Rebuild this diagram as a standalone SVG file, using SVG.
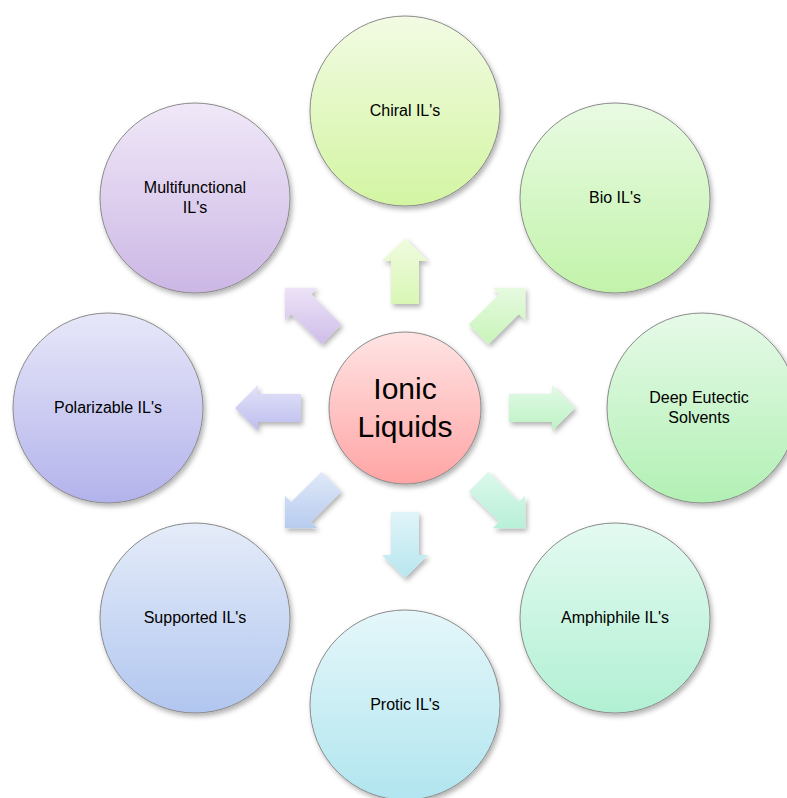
<svg xmlns="http://www.w3.org/2000/svg" width="787" height="798" viewBox="0 0 787 798">
<defs>
<filter id="sh" x="-20%" y="-20%" width="150%" height="150%">
<feDropShadow dx="2" dy="3" stdDeviation="2.5" flood-color="#000" flood-opacity="0.3"/>
</filter>
<linearGradient id="gC" x1="0" y1="0" x2="0" y2="1"><stop offset="0" stop-color="#f2fbe3"/><stop offset="1" stop-color="#d3f5a2"/></linearGradient>
<linearGradient id="gB" x1="0" y1="0" x2="0" y2="1"><stop offset="0" stop-color="#e9fbe3"/><stop offset="1" stop-color="#c2f3aa"/></linearGradient>
<linearGradient id="gD" x1="0" y1="0" x2="0" y2="1"><stop offset="0" stop-color="#e6fae8"/><stop offset="1" stop-color="#b2f0b4"/></linearGradient>
<linearGradient id="gA" x1="0" y1="0" x2="0" y2="1"><stop offset="0" stop-color="#e4faf1"/><stop offset="1" stop-color="#b1f0d3"/></linearGradient>
<linearGradient id="gP" x1="0" y1="0" x2="0" y2="1"><stop offset="0" stop-color="#e5f7fa"/><stop offset="1" stop-color="#b1e5ef"/></linearGradient>
<linearGradient id="gS" x1="0" y1="0" x2="0" y2="1"><stop offset="0" stop-color="#e5ecf9"/><stop offset="1" stop-color="#b1c6ef"/></linearGradient>
<linearGradient id="gZ" x1="0" y1="0" x2="0" y2="1"><stop offset="0" stop-color="#e7e7f9"/><stop offset="1" stop-color="#b3b3ec"/></linearGradient>
<linearGradient id="gM" x1="0" y1="0" x2="0" y2="1"><stop offset="0" stop-color="#f0e8f8"/><stop offset="1" stop-color="#ccb7e5"/></linearGradient>
<linearGradient id="gI" x1="0" y1="0" x2="0" y2="1"><stop offset="0" stop-color="#ffe4e4"/><stop offset="1" stop-color="#ffa4a4"/></linearGradient>
<linearGradient id="aC" x1="0" y1="0" x2="0" y2="1"><stop offset="0" stop-color="#f0fbe0"/><stop offset="1" stop-color="#d9f7b5"/></linearGradient>
<linearGradient id="aB" x1="0" y1="0" x2="0" y2="1"><stop offset="0" stop-color="#e6fae0"/><stop offset="1" stop-color="#c8f4b8"/></linearGradient>
<linearGradient id="aD" x1="0" y1="0" x2="0" y2="1"><stop offset="0" stop-color="#e2fae6"/><stop offset="1" stop-color="#bdf2c4"/></linearGradient>
<linearGradient id="aA" x1="0" y1="0" x2="0" y2="1"><stop offset="0" stop-color="#dcf8ec"/><stop offset="1" stop-color="#b8f0d8"/></linearGradient>
<linearGradient id="aP" x1="0" y1="0" x2="0" y2="1"><stop offset="0" stop-color="#dff4f8"/><stop offset="1" stop-color="#b8e6ef"/></linearGradient>
<linearGradient id="aS" x1="0" y1="0" x2="0" y2="1"><stop offset="0" stop-color="#dfe9f8"/><stop offset="1" stop-color="#b8ccef"/></linearGradient>
<linearGradient id="aZ" x1="0" y1="0" x2="0" y2="1"><stop offset="0" stop-color="#e2e2f8"/><stop offset="1" stop-color="#bdbdef"/></linearGradient>
<linearGradient id="aM" x1="0" y1="0" x2="0" y2="1"><stop offset="0" stop-color="#ede3f7"/><stop offset="1" stop-color="#cebde9"/></linearGradient>
</defs>
<style>
.c{stroke:#8a8a8a;stroke-width:1;filter:url(#sh)}
.a{stroke:none;filter:url(#sh)}
.t{font-family:"Liberation Sans",Arial,sans-serif;font-size:16px;fill:#000;text-anchor:middle}
.big{font-size:30px}
</style>
<rect width="787" height="798" fill="#fff"/>
<g id="connectors">
<polygon class="a" fill="url(#aC)" points="391,304 391,261 382,261 405,238 428,261 419,261 419,304"/>
<polygon class="a" fill="url(#aB)" points="468.64,324.56 499.04,294.16 492.68,287.8 525.2,287.8 525.2,320.32 518.84,313.96 488.44,344.36"/>
<polygon class="a" fill="url(#aD)" points="509,394 552,394 552,385 575,408 552,431 552,422 509,422"/>
<polygon class="a" fill="url(#aA)" points="468.64,491.44 499.04,521.84 492.68,528.2 525.2,528.2 525.2,495.68 518.84,502.04 488.44,471.64"/>
<polygon class="a" fill="url(#aP)" points="391,512 391,555 382,555 405,578 428,555 419,555 419,512"/>
<polygon class="a" fill="url(#aS)" points="341.36,491.44 310.96,521.84 317.32,528.2 284.8,528.2 284.8,495.68 291.16,502.04 321.56,471.64"/>
<polygon class="a" fill="url(#aZ)" points="301,394 258,394 258,385 235,408 258,431 258,422 301,422"/>
<polygon class="a" fill="url(#aM)" points="341.36,324.56 310.96,294.16 317.32,287.8 284.8,287.8 284.8,320.32 291.16,313.96 321.56,344.36"/>
</g>
<g id="center">
<circle class="c" cx="405" cy="408" r="76" fill="url(#gI)"/>
<text class="t big" x="405" y="399">Ionic</text>
<text class="t big" x="405" y="437">Liquids</text>
</g>
<g id="chiral">
<circle class="c" cx="405" cy="111" r="95" fill="url(#gC)"/>
<text class="t" x="405" y="116">Chiral IL's</text>
</g>
<g id="bio">
<circle class="c" cx="615" cy="198" r="95" fill="url(#gB)"/>
<text class="t" x="615" y="203">Bio IL's</text>
</g>
<g id="des">
<circle class="c" cx="702" cy="408" r="95" fill="url(#gD)"/>
<text class="t" x="699" y="403">Deep Eutectic</text>
<text class="t" x="699" y="423">Solvents</text>
</g>
<g id="amphiphile">
<circle class="c" cx="615" cy="618" r="95" fill="url(#gA)"/>
<text class="t" x="615" y="623">Amphiphile IL's</text>
</g>
<g id="protic">
<circle class="c" cx="405" cy="705" r="95" fill="url(#gP)"/>
<text class="t" x="405" y="710">Protic IL's</text>
</g>
<g id="supported">
<circle class="c" cx="195" cy="618" r="95" fill="url(#gS)"/>
<text class="t" x="195" y="623">Supported IL's</text>
</g>
<g id="polarizable">
<circle class="c" cx="108" cy="408" r="95" fill="url(#gZ)"/>
<text class="t" x="108" y="413">Polarizable IL's</text>
</g>
<g id="multifunctional">
<circle class="c" cx="195" cy="198" r="95" fill="url(#gM)"/>
<text class="t" x="195" y="193">Multifunctional</text>
<text class="t" x="195" y="213">IL's</text>
</g>
</svg>
